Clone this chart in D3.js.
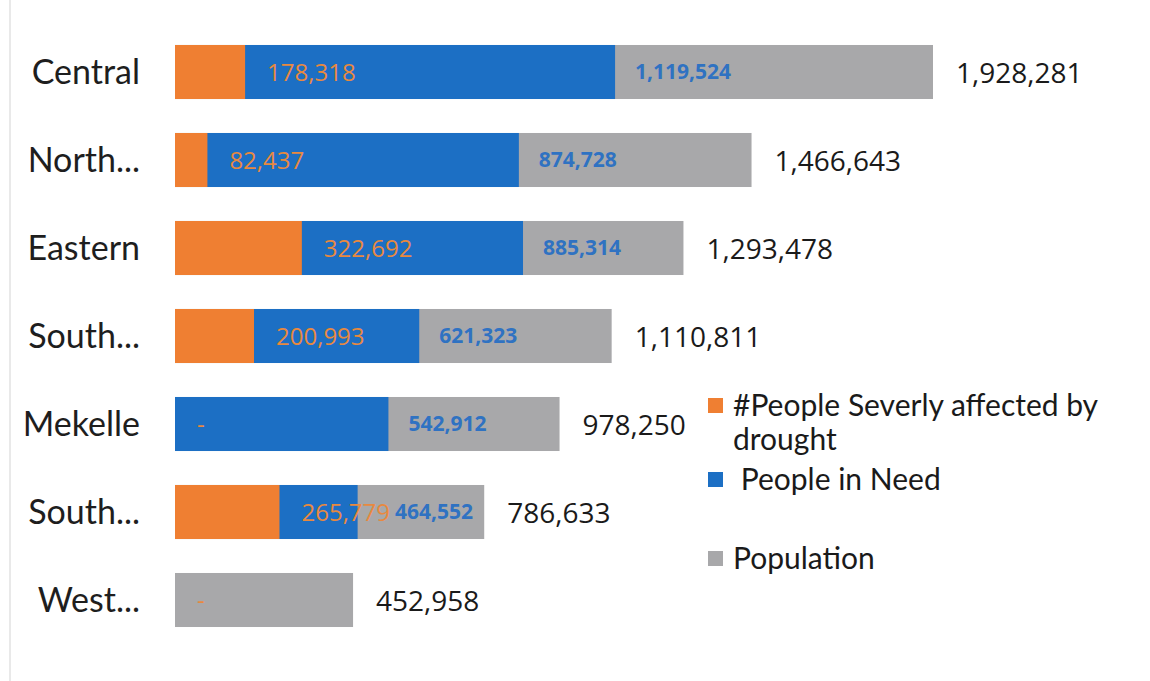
<!DOCTYPE html>
<html>
<head>
<meta charset="utf-8">
<script src="https://cdn.jsdelivr.net/npm/d3@7"></script>
<style>
  body { margin: 0; background: #fff; }
  svg { display: block; }
</style>
</head>
<body>
<div id="chart"></div>
<script>
// Data (overlapping bars, all start at zero)
var zones = ["Central", "North...", "Eastern", "South...", "Mekelle", "South...", "West..."]
var severe = [178318, 82437, 322692, 200993, 0, 265779, 0]
var inNeed = [1119524, 874728, 885314, 621323, 542912, 464552, null]
var population = [1928281, 1466643, 1293478, 1110811, 978250, 786633, 452958]
var seriesNames = ["#People Severly affected by drought", "People in Need", "Population"]

const width = 1150
const height = 681

var orange = "#ef7f32"
var blue = "#1c6fc4"
var grey = "#a8a8aa"

var svg = d3.select("#chart")
  .append("svg")
  .attr("width", width)
  .attr("height", height)

// faint frame line on the left
svg.append("line")
  .attr("x1", 10).attr("x2", 10)
  .attr("y1", 0).attr("y2", height)
  .attr("stroke", "#e2e2e2")
  .attr("stroke-width", 1.5)

var x = d3.scaleLinear()
  .domain([0, d3.max(population)])
  .range([175, 933])

// index based band so the two "South..." rows stay separate
var y = d3.scaleBand()
  .domain(d3.range(zones.length))
  .range([28, 28 + 88 * zones.length])
  .paddingInner(0.386)
  .paddingOuter(0.193)

var rows = zones.map(function (z, i) {
  return { i: i, zone: z, severe: severe[i], need: inNeed[i], pop: population[i] }
})

// draw grey, then blue, then orange on top
var layers = [
  { key: "pop", color: grey },
  { key: "need", color: blue },
  { key: "severe", color: orange }
]

layers.forEach(function (l) {
  svg.append("g")
    .selectAll("rect")
    .data(rows.filter(function (d) { return d[l.key] != null }))
    .enter().append("rect")
      .attr("x", x(0))
      .attr("y", function (d) { return y(d.i) })
      .attr("width", function (d) { return x(d[l.key]) - x(0) })
      .attr("height", y.bandwidth())
      .attr("fill", l.color)
})

var fmt = d3.format(",")
var mid = function (d) { return y(d.i) + y.bandwidth() / 2 }

// category labels
svg.append("g")
  .selectAll("text")
  .data(rows)
  .enter().append("text")
    .attr("x", 140)
    .attr("y", function (d) { return mid(d) + 12 })
    .attr("text-anchor", "end")
    .style("font-family", "Lato, sans-serif")
    .style("font-size", "34px")
    .attr("fill", "#1e1e1e")
    .text(function (d) { return d.zone })

// population labels (outside end)
svg.append("g")
  .selectAll("text")
  .data(rows)
  .enter().append("text")
    .attr("x", function (d) { return x(d.pop) + 23 })
    .attr("y", function (d) { return mid(d) + 11 })
    .style("font-family", "'Open Sans', sans-serif")
    .style("font-size", "28px")
    .attr("fill", "#1a1a1a")
    .text(function (d) { return fmt(d.pop) })

// severely affected labels (orange, "-" for zero)
var sevLabels = svg.append("g")
  .selectAll("text")
  .data(rows)
  .enter().append("text")
    .attr("x", function (d) { return x(d.severe) + 22 })
    .attr("y", function (d) { return mid(d) + 9 })
    .style("font-family", "'Open Sans', sans-serif")
    .style("font-size", "24px")
    .attr("fill", "#e8893f")
    .text(function (d) { return d.severe ? fmt(d.severe) : "-" })

// remember where each orange label ends so the blue one can sit after it
sevLabels.each(function (d) {
  d.sevEnd = x(d.severe) + 22 + this.getComputedTextLength()
})

// people in need labels (blue, just after the blue bar)
svg.append("g")
  .selectAll("text")
  .data(rows.filter(function (d) { return d.need != null }))
  .enter().append("text")
    .attr("x", function (d) { return Math.max(x(d.need) + 20, d.sevEnd + 5) })
    .attr("y", function (d) { return mid(d) + 7 })
    .style("font-family", "'Open Sans', sans-serif")
    .style("font-size", "21px")
    .style("font-weight", "bold")
    .attr("fill", "#2f72c2")
    .text(function (d) { return fmt(d.need) })

// legend
var legend = svg.append("g")
  .style("font-family", "Lato, sans-serif")
  .style("font-size", "30px")
  .attr("fill", "#1a1a1a")

var legendItems = [
  { color: orange, lines: ["#People Severly affected by", "drought"], y: 416 },
  { color: blue, lines: [" " + seriesNames[1]], y: 490 },
  { color: grey, lines: [seriesNames[2]], y: 569 }
]

legendItems.forEach(function (item) {
  legend.append("rect")
    .attr("x", 708)
    .attr("y", item.y - 18)
    .attr("width", 15)
    .attr("height", 15)
    .attr("fill", item.color)

  var t = legend.append("text")
    .attr("x", 733)
    .attr("y", item.y)
    .attr("xml:space", "preserve")
  item.lines.forEach(function (line, k) {
    t.append("tspan")
      .attr("x", 733)
      .attr("dy", k === 0 ? 0 : 34)
      .text(line)
  })
})
</script>
</body>
</html>
